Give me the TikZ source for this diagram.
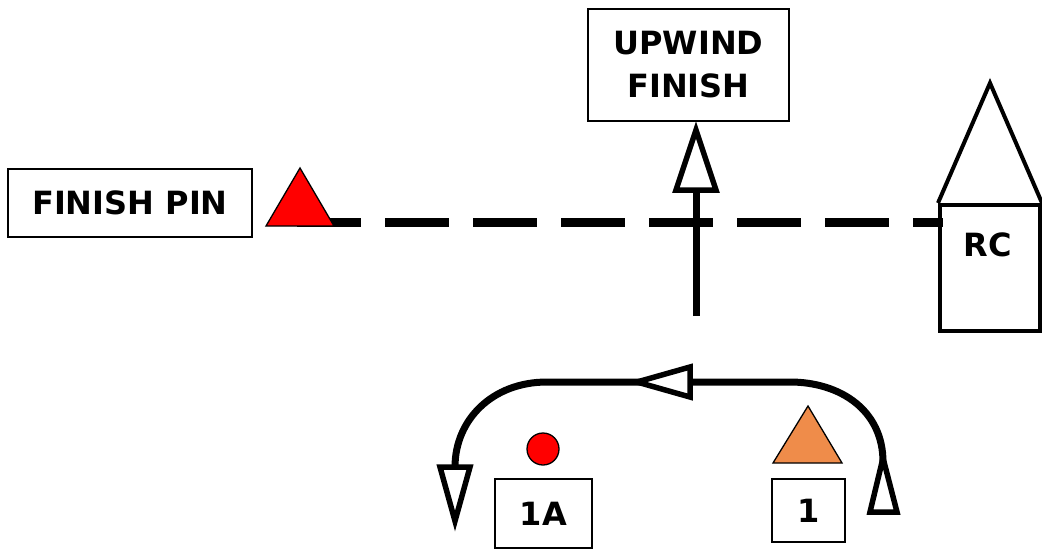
\documentclass[tikz,border=0pt]{standalone}
\usepackage{fontspec}
\setmainfont{DejaVu Sans}
\definecolor{markorange}{RGB}{239,140,74}
\definecolor{markred}{RGB}{255,0,0}
\begin{document}
\begin{tikzpicture}[x=1pt,y=-1pt,
  lbl/.style={font=\fontsize{32}{43}\selectfont\bfseries, align=center, inner sep=0pt},
  box/.style={draw, line width=2pt, lbl},
  course/.style={line width=7pt},
  openhead/.style={draw, line width=5.5pt, fill=white},
  buoy/.style={draw, line width=1.3pt}]
\useasboundingbox (0,0) rectangle (1042,550);

% finish line
\coordinate (lineStart) at (297,222);
\coordinate (lineEnd) at (943,222);
\draw[line width=9pt, dash pattern=on 64pt off 24pt] (lineStart) -- (lineEnd);

% finish pin
\node[box, minimum width=244pt, minimum height=68pt] (pinbox) at (130,203) {FINISH PIN};
\filldraw[buoy, fill=markred] (266,226) -- (300,168) -- (334,226) -- cycle;

% RC boat
\node[draw, line width=4pt, minimum width=100pt, minimum height=126pt, inner sep=0pt] (rc) at (990,268) {};
\draw[line width=4pt, line join=miter] (rc.north west) -- (990,83) -- (rc.north east);
\node[lbl] (rclabel) at (988,245) {RC};

% upwind finish
\node[box, minimum width=201pt, minimum height=112pt] (upwind) at (688.5,65) {UPWIND\\FINISH};
\coordinate (upTail) at (696,316);
\coordinate (upBase) at (696,190);
\draw[course] (upTail) -- (upBase);
\draw[openhead] (676,190) -- (696,130) -- (716,190) -- cycle;

% course around marks
\coordinate (rStart) at (883,462);
\coordinate (rTop) at (790,382);
\coordinate (lTop) at (547,382);
\coordinate (lEnd) at (455,467);
\draw[course] (rStart) .. controls (883,410) and (840,382) .. (rTop) -- (lTop)
  .. controls (492,382) and (455,420) .. (lEnd);
\draw[openhead] (690,367) -- (637,382) -- (690,397) -- cycle;
\draw[openhead] (870,512) -- (883,458) -- (897,512) -- cycle;
\draw[openhead] (440,467) -- (455,521) -- (470,467) -- cycle;

% marks
\filldraw[buoy, fill=markred] (543,449) circle (16pt);
\filldraw[buoy, fill=markorange] (773,463) -- (808,406) -- (842,463) -- cycle;
\node[box, minimum width=97pt, minimum height=69pt] (oneA) at (543.5,513.5) {1A};
\node[box, minimum width=73pt, minimum height=63pt] (one) at (808.5,510.5) {1};
\end{tikzpicture}
\end{document}
